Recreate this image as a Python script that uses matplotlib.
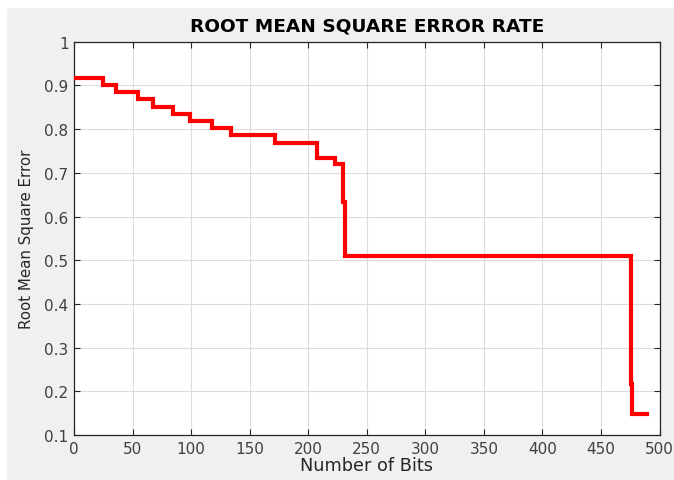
import matplotlib
matplotlib.use("Agg")
import matplotlib.pyplot as plt
from matplotlib.patches import Rectangle

# Step data (Number of Bits -> RMSE), steps-post
bits = [0, 24.5, 35.9, 54.9, 67.7, 84.8, 99.1, 117.6, 133.8, 171.6, 207.8, 222.9, 230.0, 231.2, 475.4, 476.8, 489.0]
rmse = [0.916, 0.901, 0.884, 0.869, 0.850, 0.835, 0.819, 0.803, 0.787, 0.768, 0.735, 0.720, 0.633, 0.509, 0.217, 0.149, 0.149]

xticks = [0, 50, 100, 150, 200, 250, 300, 350, 400, 450, 500]
yticks = [0.1, 0.2, 0.3, 0.4, 0.5, 0.6, 0.7, 0.8, 0.9, 1]
ytick_labels = ["0.1", "0.2", "0.3", "0.4", "0.5", "0.6", "0.7", "0.8", "0.9", "1"]

plt.rcParams['font.family'] = ['DejaVu Sans']

fig = plt.figure(figsize=(6.74, 4.81), dpi=100)
fig.patch.set_facecolor('#f0f0f0')
# white screenshot border on top and left
fig.patches.append(Rectangle((0, 1 - 8/481), 1, 8/481, transform=fig.transFigure, color='white', zorder=0))
fig.patches.append(Rectangle((0, 0), 6/674, 1, transform=fig.transFigure, color='white', zorder=0))

ax = fig.add_axes([74/674, 45/481, (659.5-74)/674, (436-42.7)/481])
ax.set_facecolor('white')
ax.plot(bits, rmse, drawstyle='steps-post', color='#ff0000', linewidth=3, solid_joinstyle='miter', zorder=3)

ax.set_xlim(0, 500)
ax.set_ylim(0.1, 1)
ax.set_xticks(xticks)
ax.set_yticks(yticks)
ax.set_yticklabels(ytick_labels)
ax.grid(True, color='#dcdcdc', linewidth=0.8)
ax.set_axisbelow(True)
ax.tick_params(direction='in', top=True, right=True, length=4, width=0.8,
               labelsize=11, colors='#262626', labelcolor='#404040', pad=4)
for s in ax.spines.values():
    s.set_color('#262626')
    s.set_linewidth(0.9)

ax.set_xlabel('Number of Bits', fontsize=12.8, color='#262626', labelpad=0)
ax.set_ylabel('Root Mean Square Error', fontsize=10.8, color='#262626', labelpad=7)
ax.set_title('ROOT MEAN SQUARE ERROR RATE', fontsize=13.3, fontweight='bold', color='black', pad=8)

fig.savefig('out.png', dpi=100, facecolor=fig.get_facecolor())
